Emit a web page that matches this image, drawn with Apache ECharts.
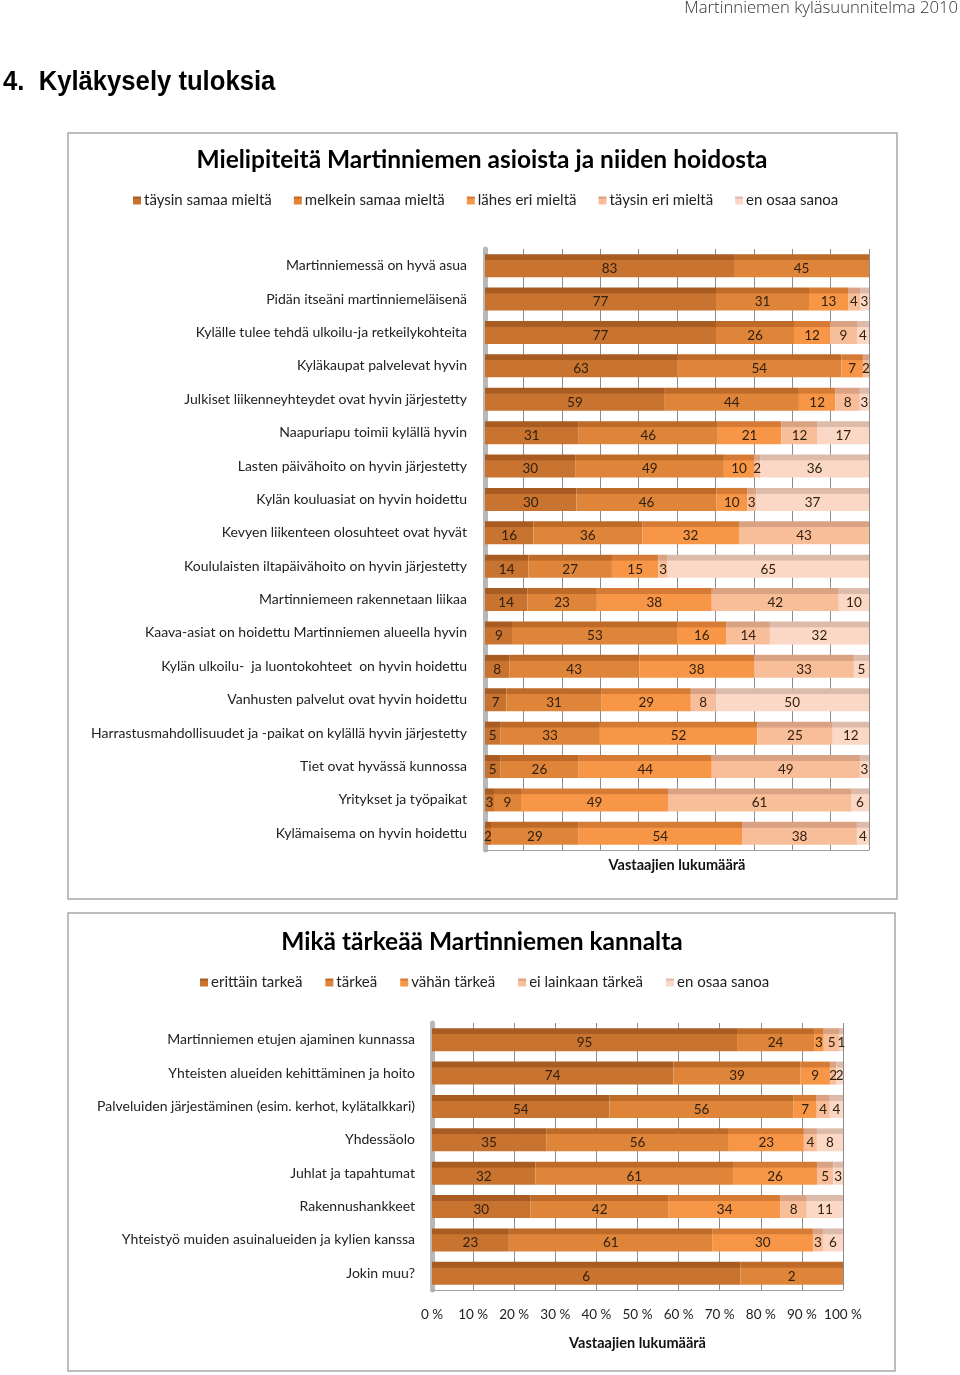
<!DOCTYPE html>
<html>
<head>
<meta charset="utf-8">
<script src="https://cdn.jsdelivr.net/npm/echarts@6/dist/echarts.min.js"></script>
<style>
html,body{margin:0;padding:0;background:#fff;}
#c{width:960px;height:1375px;}
</style>
</head>
<body>
<div id="c"></div>
<script>
// ---------- Chart 1 data ----------
var cats1 = [
  "Martinniemessä on hyvä asua",
  "Pidän itseäni martinniemeläisenä",
  "Kylälle tulee tehdä ulkoilu-ja retkeilykohteita",
  "Kyläkaupat palvelevat hyvin",
  "Julkiset liikenneyhteydet ovat hyvin järjestetty",
  "Naapuriapu toimii kylällä hyvin",
  "Lasten päivähoito on hyvin järjestetty",
  "Kylän kouluasiat on hyvin hoidettu",
  "Kevyen liikenteen olosuhteet ovat hyvät",
  "Koululaisten iltapäivähoito on hyvin järjestetty",
  "Martinniemeen rakennetaan liikaa",
  "Kaava-asiat on hoidettu Martinniemen alueella hyvin",
  "Kylän ulkoilu-  ja luontokohteet  on hyvin hoidettu",
  "Vanhusten palvelut ovat hyvin hoidettu",
  "Harrastusmahdollisuudet ja -paikat on kylällä hyvin järjestetty",
  "Tiet ovat hyvässä kunnossa",
  "Yritykset ja työpaikat",
  "Kylämaisema on hyvin hoidettu"
];
var names1 = ["täysin samaa mieltä", "melkein samaa mieltä", "lähes eri mieltä", "täysin eri mieltä", "en osaa sanoa"];
var taysinSamaa  = [83, 77, 77, 63, 59, 31, 30, 30, 16, 14, 14,  9,  8,  7,  5,  5,  3,  2];
var melkeinSamaa = [45, 31, 26, 54, 44, 46, 49, 46, 36, 27, 23, 53, 43, 31, 33, 26,  9, 29];
var lahesEri     = [ 0, 13, 12,  7, 12, 21, 10, 10, 32, 15, 38, 16, 38, 29, 52, 44, 49, 54];
var taysinEri    = [ 0,  4,  9,  2,  8, 12,  2,  3, 43,  3, 42, 14, 33,  8, 25, 49, 61, 38];
var enOsaa1      = [ 0,  3,  4,  0,  3, 17, 36, 37,  0, 65, 10, 32,  5, 50, 12,  3,  6,  4];

// ---------- Chart 2 data ----------
var cats2 = [
  "Martinniemen etujen ajaminen kunnassa",
  "Yhteisten alueiden kehittäminen ja hoito",
  "Palveluiden järjestäminen (esim. kerhot, kylätalkkari)",
  "Yhdessäolo",
  "Juhlat ja tapahtumat",
  "Rakennushankkeet",
  "Yhteistyö muiden asuinalueiden ja kylien kanssa",
  "Jokin muu?"
];
var names2 = ["erittäin tarkeä", "tärkeä", "vähän tärkeä", "ei lainkaan tärkeä", "en osaa sanoa"];
var erittainTarkea = [95, 74, 54, 35, 32, 30, 23, 6];
var tarkea         = [24, 39, 56, 56, 61, 42, 61, 2];
var vahanTarkea    = [ 3,  9,  7, 23, 26, 34, 30, 0];
var eiLainkaan     = [ 5,  2,  4,  4,  5,  8,  3, 0];
var enOsaa2        = [ 1,  2,  4,  8,  3, 11,  6, 0];

var pctTicks = ["0 %", "10 %", "20 %", "30 %", "40 %", "50 %", "60 %", "70 %", "80 %", "90 %", "100 %"];

// ---------- styling ----------
var baseCols = ["#C8732F", "#DF853A", "#F79646", "#F8BE9A", "#FBD8C6"];
var topCols  = ["#A85C22", "#BE6A28", "#D67B35", "#D9A283", "#DDBBAA"];
var FONT = "Lato, 'Open Sans', sans-serif";

function grad(i) {
  return new echarts.graphic.LinearGradient(0, 0, 0, 1, [
    {offset: 0, color: topCols[i]},
    {offset: 0.24, color: topCols[i]},
    {offset: 0.27, color: baseCols[i]},
    {offset: 1, color: baseCols[i]}
  ]);
}

function buildSeries(arrs, names, axisIdx) {
  var n = arrs[0].length;
  var totals = [];
  for (var k = 0; k < n; k++) {
    var t = 0;
    for (var s = 0; s < arrs.length; s++) t += arrs[s][k];
    totals.push(t);
  }
  return arrs.map(function (arr, i) {
    return {
      name: names[i],
      type: 'bar',
      stack: 'st' + axisIdx,
      xAxisIndex: axisIdx,
      yAxisIndex: axisIdx,
      barWidth: 23,
      itemStyle: {color: grad(i)},
      label: {
        show: true,
        position: 'inside',
        offset: [0, 3],
        color: '#32200f',
        fontSize: 13.5,
        fontFamily: FONT,
        formatter: function (p) { return p.data.raw > 0 ? String(p.data.raw) : ''; }
      },
      emphasis: {disabled: true},
      data: arr.map(function (v, k) { return {value: v / totals[k] * 100, raw: v}; })
    };
  });
}

var series = buildSeries([taysinSamaa, melkeinSamaa, lahesEri, taysinEri, enOsaa1], names1, 0)
  .concat(buildSeries([erittainTarkea, tarkea, vahanTarkea, eiLainkaan, enOsaa2], names2, 1));

var chart = echarts.init(document.getElementById('c'), null, {renderer: 'canvas'});
chart.setOption({
  animation: false,
  backgroundColor: '#ffffff',
  textStyle: {fontFamily: FONT},
  graphic: [
    {type: 'rect', shape: {x: 68, y: 133, width: 829, height: 766}, style: {fill: '#fff', stroke: '#A8A8A8', lineWidth: 1.5}, z: -10},
    {type: 'rect', shape: {x: 68, y: 913, width: 827, height: 458}, style: {fill: '#fff', stroke: '#A8A8A8', lineWidth: 1.5}, z: -10},
    {type: 'text', x: 958, y: 8, style: {text: 'Martinniemen kyläsuunnitelma 2010', align: 'right', verticalAlign: 'middle', font: "300 16.7px 'Open Sans', Lato, sans-serif", fill: '#333'}},
    {type: 'text', x: 3, y: 83, scaleX: 0.95, style: {text: '4.  Kyläkysely tuloksia', align: 'left', verticalAlign: 'middle', font: "bold 27px 'Liberation Sans', Arial, sans-serif", fill: '#000'}},
    {type: 'text', x: 482, y: 160, style: {text: 'Mielipiteitä Martinniemen asioista ja niiden hoidosta', align: 'center', verticalAlign: 'middle', font: "bold 24.5px Lato, sans-serif", fill: '#000'}},
    {type: 'text', x: 482, y: 942, style: {text: 'Mikä tärkeää Martinniemen kannalta', align: 'center', verticalAlign: 'middle', font: "bold 24.5px Lato, sans-serif", fill: '#000'}}
  ],
  legend: [
    {
      data: names1, top: 188, left: 128, itemWidth: 8, itemHeight: 8, itemGap: 22, icon: 'rect',
      textStyle: {fontSize: 15, color: '#222', fontFamily: FONT, padding: [0, 0, 0, -2]},
      selectedMode: false
    },
    {
      data: names2, top: 970, left: 195, itemWidth: 8, itemHeight: 8, itemGap: 23, icon: 'rect',
      textStyle: {fontSize: 15, color: '#222', fontFamily: FONT, padding: [0, 0, 0, -2]},
      selectedMode: false
    }
  ],
  grid: [
    {left: 485, top: 249, width: 384, height: 601},
    {left: 432, top: 1023, width: 411, height: 267}
  ],
  xAxis: [
    {
      gridIndex: 0, type: 'value', min: 0, max: 100, interval: 10,
      axisLabel: {show: false},
      axisTick: {show: false},
      axisLine: {show: true, lineStyle: {color: '#A0A0A0'}},
      splitLine: {show: true, lineStyle: {color: '#8C8C8C', width: 1}},
      name: 'Vastaajien lukumäärä', nameLocation: 'middle', nameGap: 8,
      nameTextStyle: {fontSize: 14.5, fontWeight: 'bold', color: '#111', fontFamily: FONT}
    },
    {
      gridIndex: 1, type: 'value', min: 0, max: 100, interval: 10,
      axisLabel: {show: true, fontSize: 13.5, color: '#222', margin: 18, fontFamily: FONT,
        formatter: function (v) { return pctTicks[Math.round(v / 10)]; }},
      axisTick: {show: false},
      axisLine: {show: true, lineStyle: {color: '#A0A0A0'}},
      splitLine: {show: true, lineStyle: {color: '#8C8C8C', width: 1}},
      name: 'Vastaajien lukumäärä', nameLocation: 'middle', nameGap: 46,
      nameTextStyle: {fontSize: 14.5, fontWeight: 'bold', color: '#111', fontFamily: FONT}
    }
  ],
  yAxis: [
    {
      gridIndex: 0, type: 'category', data: cats1, inverse: true,
      axisLine: {show: true, lineStyle: {color: '#B8B8B8', width: 5}},
      axisTick: {show: false},
      axisLabel: {fontSize: 14, color: '#222', margin: 18, fontFamily: FONT}
    },
    {
      gridIndex: 1, type: 'category', data: cats2, inverse: true,
      axisLine: {show: true, lineStyle: {color: '#B8B8B8', width: 5}},
      axisTick: {show: false},
      axisLabel: {fontSize: 14, color: '#222', margin: 17, fontFamily: FONT}
    }
  ],
  series: series
});
</script>
</body>
</html>
